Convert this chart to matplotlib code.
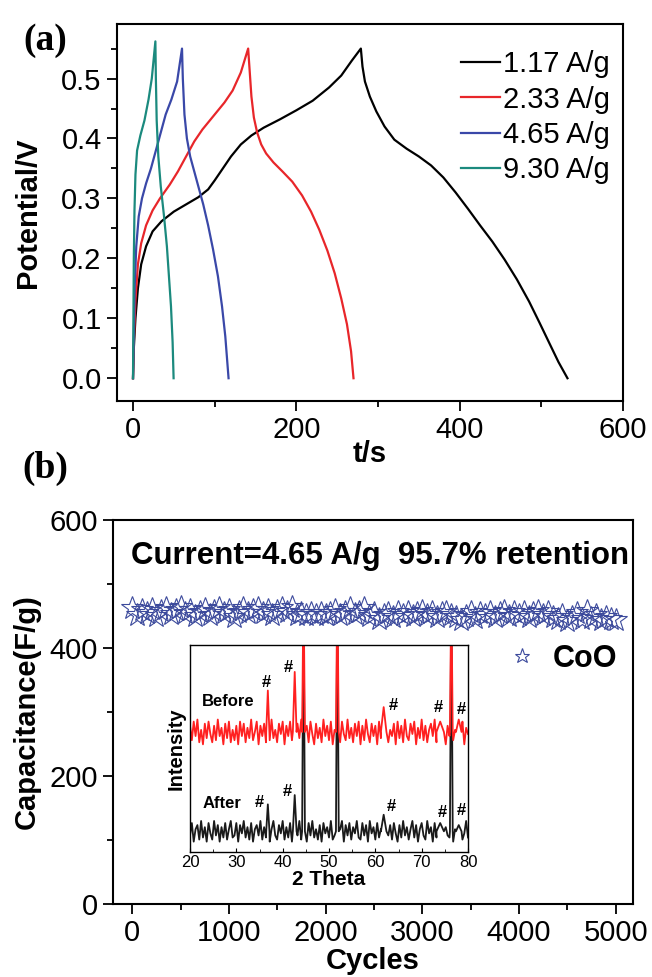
import matplotlib
matplotlib.use('Agg')
import matplotlib.pyplot as plt
from matplotlib.ticker import MultipleLocator
import numpy as np

plt.rcParams['font.family'] = ['Liberation Sans', 'DejaVu Sans']

# (a) charge / discharge curves
labels_a = ['1.17 A/g', '2.33 A/g', '4.65 A/g', '9.30 A/g']
colors_a = ['black', '#e8262a', '#3a48a8', '#1b8a7e']

t_117 = [0, 1, 3, 6, 10, 16, 24, 35, 50, 65, 80, 92, 100, 110, 120, 132, 145, 160,
         180, 200, 220, 240, 255, 268, 279,
         281, 284, 290, 298, 308, 320, 335, 350, 365, 380, 395, 410, 425, 440, 455,
         470, 485, 498, 510, 521, 532]
v_117 = [0, 0.05, 0.1, 0.15, 0.19, 0.22, 0.245, 0.262, 0.278, 0.29, 0.302, 0.315,
         0.33, 0.35, 0.37, 0.39, 0.405, 0.418, 0.432, 0.447, 0.463, 0.485, 0.505,
         0.53, 0.55,
         0.52, 0.495, 0.47, 0.445, 0.42, 0.398, 0.383, 0.37, 0.355, 0.335, 0.31,
         0.283, 0.255, 0.228, 0.198, 0.165, 0.128, 0.092, 0.058, 0.027, 0]

t_233 = [0, 1, 3, 6, 10, 16, 24, 33, 45, 55, 65, 75, 85, 100, 112, 122, 132, 141,
         143, 145, 148, 152, 157, 163, 172, 183, 195, 207, 218, 228, 238, 247, 255,
         262, 267, 270]
v_233 = [0, 0.06, 0.13, 0.19, 0.225, 0.255, 0.28, 0.3, 0.323, 0.345, 0.37, 0.395,
         0.415, 0.44, 0.46, 0.48, 0.51, 0.55,
         0.51, 0.47, 0.435, 0.41, 0.39, 0.375, 0.36, 0.345, 0.328, 0.305, 0.278,
         0.248, 0.213, 0.175, 0.133, 0.09, 0.045, 0]

t_465 = [0, 1, 2, 4, 7, 11, 16, 22, 28, 34, 40, 47, 54, 60,
         61, 63, 66, 70, 75, 80, 86, 92, 98, 104, 109, 113, 117]
v_465 = [0, 0.07, 0.15, 0.22, 0.27, 0.3, 0.325, 0.35, 0.38, 0.41, 0.44, 0.465,
         0.495, 0.55,
         0.5, 0.44, 0.4, 0.37, 0.345, 0.32, 0.29, 0.255, 0.215, 0.17, 0.12, 0.07, 0]

t_930 = [0, 0.5, 1, 1.8, 3, 5, 9, 14, 19, 23, 27.4,
         28, 29, 31, 34, 38, 41.5, 44, 46.5, 48.5, 49.7]
v_930 = [0, 0.1, 0.2, 0.28, 0.34, 0.38, 0.405, 0.43, 0.465, 0.5, 0.562,
         0.5, 0.43, 0.37, 0.32, 0.27, 0.22, 0.17, 0.12, 0.06, 0]

# (b) cycling stability
cycles = list(range(0, 5001, 50))
capacitance = [463, 452, 460, 455, 461, 450, 458, 462, 453, 459,
               464, 455, 460, 450, 457, 461, 452, 458, 462, 454,
               459, 449, 457, 462, 454, 460, 463, 455, 460, 452,
               458, 462, 456, 464, 452, 455, 451, 454, 452, 455,
               451, 454, 460, 452, 456, 462, 453, 457, 463, 450,
               455, 446, 452, 455, 449, 456, 452, 457, 450, 455,
               458, 451, 456, 449, 454, 457, 452, 448, 443, 450,
               456, 447, 455, 451, 457, 449, 455, 458, 450, 456,
               452, 457, 449, 455, 458, 451, 456, 448, 445, 452,
               442, 449, 455, 446, 458, 447, 451, 444, 449, 446,
               443]

# inset XRD
theta_grid = np.arange(20, 80.01, 0.4)
before_base = 58
after_base = 10
before_noise = [3, -4, 5, -2, 6, -5, 1, -6, 4, -3,
                5, -1, -5, 3, -4, 6, -2, 2, -6, 4,
                -3, 5, -5, 1, -4, 3, -6, 5, -2, 4,
                -5, 2, -3, 6, -4, 0, 5, -6, 3, -2,
                4, -5, 2, -4, 6, -3, 1, -5, 4, -1,
                5, -6, 3, -2, 5, -4, 2, -6, 4, -3,
                6, -2, -4, 3, -5, 5, -1, -6, 4, -3,
                2, -5, 6, -2, 3, -4, 5, -6, 1, -3,
                4, -5, 5, -1, -4, 6, -3, 2, -5, 4,
                -2, 5, -6, 3, -4, 6, -1, -5, 4, -2,
                3, -6, 5, -3, 2, -4, 6, -5, 1, -2,
                4, -6, 5, -3, 3, -5, 6, -2, -4, 4,
                -1, 5, -6, 2, -3, 6, -4, 3, -5, 1,
                4, -2, 6, -5, 2, -4, 5, -3, -6, 3,
                -2, 6, -4, 1, -5, 4, -3, 5, -6, 2,
                -1]
after_noise = [-2, 4, -5, 1, 3, -4, 5, -3, 2, -5,
               4, -1, -4, 5, -2, 3, -5, 2, -3, 4,
               -4, 1, 5, -3, -2, 4, -5, 3, -1, 5,
               -3, 2, -4, 4, -5, 1, 3, -2, 5, -4,
               2, -3, 4, -5, 1, 5, -2, -4, 3, -1,
               5, -4, 2, -3, 4, -5, 1, 3, -2, 5,
               -4, 3, -1, -5, 4, -2, 5, -3, 1, -4,
               3, -5, 4, -1, 2, -3, 5, -4, -2, 4,
               -3, 1, 5, -5, 3, -2, 4, -4, 2, -1,
               5, -3, -4, 4, -2, 3, -5, 5, -1, 2,
               -4, 4, -3, 1, 5, -5, 2, -2, 3, -4,
               4, -1, -5, 3, -3, 5, -2, 2, -4, 1,
               5, -3, 3, -5, 1, 4, -2, -4, 5, -1,
               2, -5, 4, -3, 3, -1, 5, -4, 2, -2,
               -3, 5, -5, 1, 4, -2, 3, -4, -1, 5,
               -3]
peak_pos = [36.8, 42.6, 44.5, 51.8, 61.8, 74.0, 76.4, 78.0]
peak_hw = [0.35, 0.4, 0.3, 0.3, 0.6, 0.8, 0.3, 0.6]
before_peaks = [78, 87, 130, 130, 70, 63, 130, 64]
after_peaks = [23, 27.5, 130, 130, 18, 14, 130, 13]
before_hash = [(36.4, 82), (41.2, 89), (63.8, 71), (73.7, 70), (78.5, 69)]
after_hash = [(34.9, 24), (41.0, 29), (63.4, 22), (74.4, 19), (78.5, 20)]


def build_pattern(base, noise, tops):
    pts = []
    for x, n in zip(theta_grid, noise):
        if all(abs(x - p) > w for p, w in zip(peak_pos, peak_hw)):
            pts.append((x, base + n))
    for p, w, t in zip(peak_pos, peak_hw, tops):
        pts += [(p - w, base), (p, t), (p + w, base)]
    pts.sort()
    return [q[0] for q in pts], [q[1] for q in pts]


fig = plt.figure(figsize=(6.52, 9.77), dpi=100)

# ---------- panel (a)
ax1 = fig.add_axes([117 / 652, 1 - 401 / 977, 506 / 652, 377 / 977])
for t, v, lab, c in zip([t_117, t_233, t_465, t_930], [v_117, v_233, v_465, v_930],
                        labels_a, colors_a):
    ax1.plot(t, v, color=c, lw=1.6, label=lab)
ax1.set_xlim(-19.6, 600)
ax1.set_ylim(-0.038, 0.591)
ax1.xaxis.set_major_locator(MultipleLocator(200))
ax1.xaxis.set_minor_locator(MultipleLocator(100))
ax1.yaxis.set_major_locator(MultipleLocator(0.1))
ax1.yaxis.set_minor_locator(MultipleLocator(0.05))
ax1.set_xticks([0, 200, 400, 600])
ax1.set_yticks([0, 0.1, 0.2, 0.3, 0.4, 0.5])
ax1.set_yticklabels(['0.0', '0.1', '0.2', '0.3', '0.4', '0.5'])
ax1.set_xlabel('t/s', fontsize=21, fontweight='bold', labelpad=-3)
ax1.set_ylabel('Potential/V', fontsize=21, fontweight='bold', labelpad=14)
leg = ax1.legend(loc='upper right', bbox_to_anchor=(0.975, 0.93), frameon=False,
                 fontsize=21, handlelength=1.35, handletextpad=0.1, labelspacing=0.25,
                 borderpad=0, borderaxespad=0)

# ---------- panel (b)
ax2 = fig.add_axes([113 / 652, 1 - 904 / 977, 520 / 652, 384 / 977])
ax2.plot(cycles, capacitance, ls='none', marker='*', ms=17, mfc='none',
         mec='#3c4a9c', mew=0.8, label='CoO')
ax2.set_xlim(-200, 5180)
ax2.set_ylim(0, 600)
ax2.xaxis.set_major_locator(MultipleLocator(1000))
ax2.xaxis.set_minor_locator(MultipleLocator(500))
ax2.yaxis.set_major_locator(MultipleLocator(200))
ax2.yaxis.set_minor_locator(MultipleLocator(100))
ax2.set_xlabel('Cycles', fontsize=21, fontweight='bold', labelpad=0)
ax2.set_ylabel('Capacitance(F/g)', fontsize=21, fontweight='bold', labelpad=6)
ax2.text(0.035, 0.906, 'Current=4.65 A/g  95.7% retention', transform=ax2.transAxes,
         fontsize=22.5, fontweight='bold', ha='left', va='center')
ax2.legend(loc='center right', bbox_to_anchor=(0.97, 0.638), frameon=False,
           prop={'size': 22, 'weight': 'bold'}, markerscale=0.65, handlelength=1.0,
           handletextpad=0.5, borderpad=0, borderaxespad=0)

for ax in (ax1, ax2):
    for s in ax.spines.values():
        s.set_linewidth(1.5)
    ax.tick_params(which='both', direction='out', top=False, right=False,
                   labelsize=21, width=1.3)
    ax.tick_params(which='major', length=7, pad=4)
    ax.tick_params(which='minor', length=4)

# ---------- inset XRD
ins = fig.add_axes([190 / 652, 1 - 852 / 977, 278 / 652, 207 / 977])
bx, by = build_pattern(before_base, before_noise, before_peaks)
axx, ayy = build_pattern(after_base, after_noise, after_peaks)
ins.plot(axx, ayy, color='#1a1a1a', lw=1.3)
ins.plot(bx, by, color='#ff2020', lw=1.3)
for x, y in before_hash + after_hash:
    ins.text(x, y, '#', fontsize=12, fontweight='bold', ha='center', va='center')
ins.text(22.6, 72.5, 'Before', fontsize=12, fontweight='bold', ha='left', va='center')
ins.text(22.8, 23.5, 'After', fontsize=12, fontweight='bold', ha='left', va='center')
ins.set_xlim(20, 80)
ins.set_ylim(0, 100)
ins.set_yticks([])
ins.xaxis.set_major_locator(MultipleLocator(10))
ins.xaxis.set_minor_locator(MultipleLocator(5))
ins.tick_params(which='both', direction='in', top=False, labelsize=12, pad=2)
ins.tick_params(which='major', length=3)
ins.tick_params(which='minor', length=2)
ins.set_xlabel('2 Theta', fontsize=15, fontweight='bold', labelpad=0)
ins.set_ylabel('Intensity', fontsize=14.5, fontweight='bold', labelpad=3)
for s in ins.spines.values():
    s.set_linewidth(1.0)

fig.text(45 / 652, 1 - 40 / 977, '(a)', fontsize=27, fontweight='bold',
         family='Liberation Serif', ha='center', va='center')
fig.text(45 / 652, 1 - 468 / 977, '(b)', fontsize=27, fontweight='bold',
         family='Liberation Serif', ha='center', va='center')

fig.savefig('out.png', dpi=100)
